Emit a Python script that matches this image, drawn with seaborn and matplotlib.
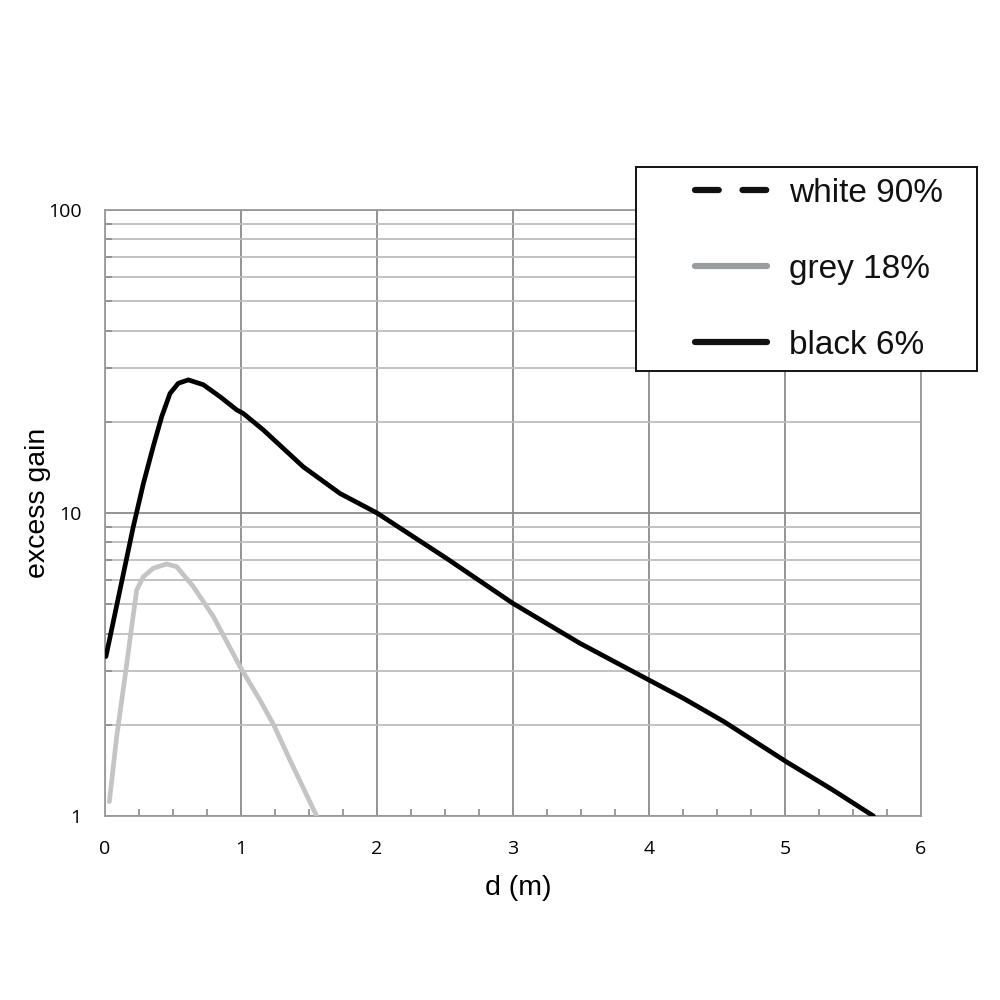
import numpy as np
import pandas as pd
import matplotlib
matplotlib.use("Agg")
import matplotlib.pyplot as plt
import seaborn as sns
from matplotlib.lines import Line2D
from matplotlib.patches import Rectangle
from matplotlib.ticker import FixedLocator, NullFormatter, FuncFormatter

# values (d in m, excess gain)
black_d = [0.007, 0.110, 0.208, 0.282, 0.355, 0.417, 0.478, 0.539, 0.613, 0.723,
           0.846, 0.968, 1.017, 1.164, 1.458, 1.728, 2.0, 2.51, 3.0, 3.49,
           3.93, 4.25, 4.55, 5.01, 5.35, 5.65]
black_g = [3.36, 5.57, 9.01, 12.5, 16.6, 20.8, 24.8, 26.8, 27.5, 26.5,
           24.2, 21.9, 21.3, 18.8, 14.2, 11.6, 10.0, 7.09, 5.03, 3.72,
           2.92, 2.45, 2.05, 1.51, 1.22, 1.0]

grey_d = [0.032, 0.086, 0.147, 0.196, 0.233, 0.282, 0.355, 0.453, 0.527, 0.65,
          0.797, 0.993, 1.14, 1.24, 1.36, 1.556]
grey_g = [1.115, 1.83, 2.88, 4.21, 5.57, 6.16, 6.57, 6.79, 6.65, 5.71,
          4.55, 3.11, 2.41, 2.0, 1.53, 1.0]

labels = ["white 90%", "grey 18%", "black 6%"]

df = pd.concat([
    pd.DataFrame({"d": black_d, "gain": black_g, "series": "black 6%"}),
    pd.DataFrame({"d": grey_d, "gain": grey_g, "series": "grey 18%"}),
])

sns.set_style("white")
plt.rcParams["font.family"] = ["Liberation Sans", "DejaVu Sans"]
plt.rcParams["text.color"] = "#000000"
plt.rcParams["axes.labelcolor"] = "#000000"

fig = plt.figure(figsize=(10, 10), dpi=100)
ax = fig.add_axes([0.105, 0.184, 0.816, 0.606])

sns.lineplot(data=df, x="d", y="gain", hue="series",
             palette={"black 6%": "#000000", "grey 18%": "#c4c4c4"},
             linewidth=3.4, sort=False, legend=False, ax=ax, zorder=3)
for l in ax.lines:
    l.set_solid_capstyle("round")
    l.set_solid_joinstyle("round")

ax.set_yscale("log")
ax.set_xlim(0, 6)
ax.set_ylim(1, 100)

ax.xaxis.set_major_locator(FixedLocator(range(0, 7)))
ax.xaxis.set_minor_locator(FixedLocator(np.arange(0, 6.01, 0.25)))
ax.yaxis.set_major_locator(FixedLocator([1, 10, 100]))
minor_y = [m * 10 ** e for e in range(0, 2) for m in range(2, 10)]
ax.yaxis.set_minor_locator(FixedLocator(minor_y))
ax.yaxis.set_major_formatter(FuncFormatter(lambda v, p: f"{int(v)}"))
ax.yaxis.set_minor_formatter(NullFormatter())

ax.grid(True, which="major", axis="both", color="#8a8a8a", linewidth=1.3)
ax.grid(True, which="minor", axis="y", color="#bdbdbd", linewidth=1.3)
ax.set_axisbelow(True)

for s in ax.spines.values():
    s.set_color("#9a9a9a")
    s.set_linewidth(1.3)

ax.tick_params(bottom=True, left=True, which="both")
ax.tick_params(axis="x", which="major", length=0, pad=17, labelsize=14, labelcolor="#000000")
ax.tick_params(axis="x", which="minor", direction="in", length=5, width=1.2, color="#8a8a8a")
ax.tick_params(axis="y", which="major", length=0, pad=17, labelsize=14, labelcolor="#000000")
ax.tick_params(axis="y", which="minor", direction="in", length=5, width=1.2, color="#8a8a8a")
for t in ax.get_xticklabels() + ax.get_yticklabels():
    t.set_fontfamily(["Open Sans", "DejaVu Sans"])

ax.set_xlabel("d (m)", fontsize=20.5, color="#000000")
ax.set_ylabel("excess gain", fontsize=20.5, color="#000000")
ax.xaxis.set_label_coords(0.507, -0.097)
ax.yaxis.set_label_coords(-0.066, 0.517)

# legend box (sticks out past the plot area, as in the reference)
fig.patches.append(Rectangle((0.636, 0.629), 0.341, 0.204, transform=fig.transFigure,
                             facecolor="white", edgecolor="#111111", linewidth=1.4,
                             zorder=4))
handles = [
    Line2D([0], [0], color="#111111", linewidth=4.5, linestyle=(0, (3.8, 3.8)),
           dash_capstyle="round"),
    Line2D([0], [0], color="#9a9da0", linewidth=4.5, solid_capstyle="round"),
    Line2D([0], [0], color="#111111", linewidth=4.5, solid_capstyle="round"),
]
leg = fig.legend(handles, labels, loc="upper left", bbox_to_anchor=(0.695, 0.822),
                 bbox_transform=fig.transFigure, fontsize=24, frameon=False,
                 handlelength=2.16, handletextpad=0.66, labelspacing=1.35,
                 borderpad=0, borderaxespad=0)
for t in leg.get_texts():
    t.set_color("#111111")
leg.set_zorder(5)

fig.savefig("out.png", dpi=100)
